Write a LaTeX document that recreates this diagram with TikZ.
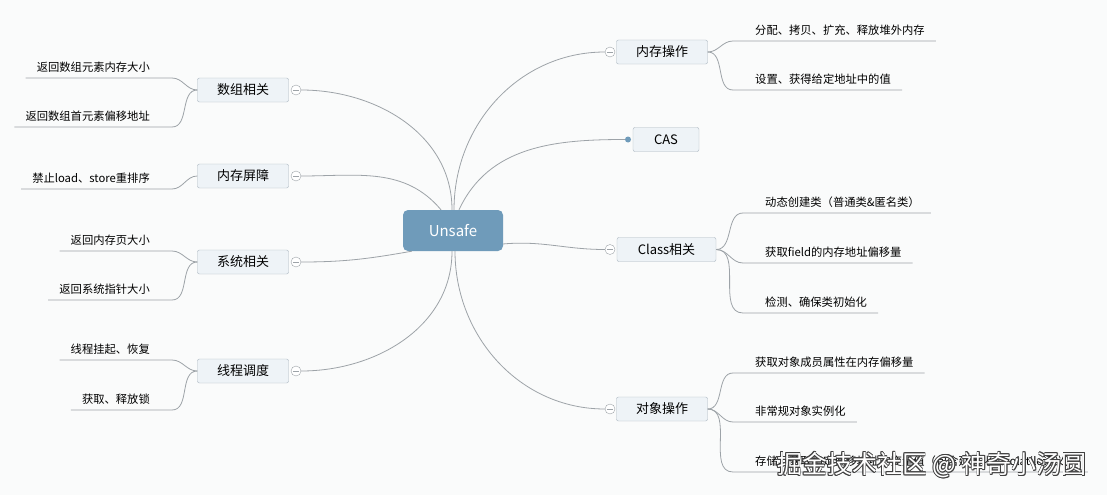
\documentclass[tikz,border=0pt]{standalone}
\usepackage{fontspec}
\setmainfont{Noto Sans CJK SC}
\usetikzlibrary{positioning}
\definecolor{rootblue}{HTML}{6F9BBA}
\definecolor{boxfill}{HTML}{EEF3F7}
\definecolor{boxline}{HTML}{A9B5BF}
\definecolor{linkgray}{HTML}{9DA3A8}
\definecolor{paper}{HTML}{FAFBFB}

\begin{document}
\begin{tikzpicture}[x=1pt,y=1pt,
  root/.style={rectangle, rounded corners=5pt, fill=rootblue, text=white, minimum width=100pt, minimum height=41pt, font=\fontsize{15}{17}\selectfont},
  topic/.style={rectangle, rounded corners=2pt, draw=boxline, fill=boxfill, minimum width=91pt, minimum height=24pt, font=\fontsize{13}{15}\selectfont},
  fold/.style={circle, draw=linkgray, fill=white, inner sep=0pt, minimum size=10pt,
    path picture={\draw[linkgray] ([xshift=-3pt]path picture bounding box.center) -- ([xshift=3pt]path picture bounding box.center);}},
  tip/.style={circle, fill=rootblue, inner sep=0pt, minimum size=6pt},
  leafl/.style={anchor=south east, inner xsep=11pt, inner ysep=5pt, font=\fontsize{11.3}{13}\selectfont},
  leafr/.style={anchor=south west, inner xsep=11pt, inner ysep=5pt, font=\fontsize{11.3}{13}\selectfont},
  link/.style={draw=linkgray, line width=0.8pt}]

% background
  \fill[paper] (0,0) rectangle (1107,-495);
  \useasboundingbox (0,0) rectangle (1107,-495);

% define the root and the topics
  \node[root]  (unsafe) at (453,-230.5) {Unsafe};

  \node[topic] (arr)    at (243,-90)  {数组相关};
  \node[topic] (fence)  at (243,-176) {内存屏障};
  \node[topic] (sys)    at (243,-262) {系统相关};
  \node[topic] (thread) at (243,-371) {线程调度};

  \node[topic] (mem)    at (662,-52)  {内存操作};
  \node[topic, minimum width=66pt] (cas) at (666,-139.5) {CAS};
  \node[topic, minimum width=99pt] (cls) at (666.5,-249.5) {Class相关};
  \node[topic] (obj)    at (662,-409) {对象操作};

% fold marks
  \node[fold] (farr)    at (296,-90)  {};
  \node[fold] (ffence)  at (296,-176) {};
  \node[fold] (fsys)    at (296,-262) {};
  \node[fold] (fthread) at (296,-371) {};
  \node[fold] (fmem)    at (610,-52)  {};
  \node[tip]  (fcas)    at (628,-139.5) {};
  \node[fold] (fcls)    at (610,-249.5) {};
  \node[fold] (fobj)    at (610,-409) {};

% define the leaves
  \node[leafl] (arr1)    at (161,-78)  {返回数组元素内存大小};
  \node[leafl] (arr2)    at (161,-127) {返回数组首元素偏移地址};
  \node[leafl] (fence1)  at (161,-189) {禁止load、store重排序};
  \node[leafl] (sys1)    at (161,-251) {返回内存页大小};
  \node[leafl] (sys2)    at (161,-300) {返回系统指针大小};
  \node[leafl] (thread1) at (161,-360) {线程挂起、恢复};
  \node[leafl] (thread2) at (161,-410) {获取、释放锁};

  \node[leafr] (mem1) at (744,-41)  {分配、拷贝、扩充、释放堆外内存};
  \node[leafr] (mem2) at (744,-90)  {设置、获得给定地址中的值};
  \node[leafr] (cls1) at (754,-213) {动态创建类（普通类\&匿名类）};
  \node[leafr] (cls2) at (754,-263) {获取field的内存地址偏移量};
  \node[leafr] (cls3) at (754,-313) {检测、确保类初始化};
  \node[leafr] (obj1) at (744,-373) {获取对象成员属性在内存偏移量};
  \node[leafr] (obj2) at (744,-422) {非常规对象实例化};
  \node[leafr] (obj3) at (744,-472) {存储、获取指定偏移地址的变量值（包含延迟化和volatile语义）};

% define the links
  \draw[link] (farr.east)    to[out=0,in=90]   ([xshift=-1pt]unsafe.north);
  \draw[link] (ffence.east)  to[out=0,in=130]  ([xshift=-12pt]unsafe.north);
  \draw[link] (fsys.east)    to[out=0,in=190]  ([xshift=9pt]unsafe.south west);
  \draw[link] (fthread.east) to[out=0,in=-90]  ([xshift=-1pt]unsafe.south);
  \draw[link] (fmem.west)    to[out=180,in=90] ([xshift=1pt]unsafe.north);
  \draw[link] (fcas.west)    to[out=180,in=65] ([xshift=6pt]unsafe.north);
  \draw[link] (unsafe.-15)   to[out=5,in=180]  (fcls.west);
  \draw[link] (fobj.west)    to[out=180,in=-90] ([xshift=2pt]unsafe.south);

  \draw[link] (arr.west)    to[out=180,in=0] ([xshift=11pt]arr1.south east) -- (arr1.south west);
  \draw[link] (arr.west)    to[out=180,in=0] ([xshift=11pt]arr2.south east) -- (arr2.south west);
  \draw[link] (fence.west)  to[out=180,in=0] ([xshift=11pt]fence1.south east) -- (fence1.south west);
  \draw[link] (sys.west)    to[out=180,in=0] ([xshift=11pt]sys1.south east) -- (sys1.south west);
  \draw[link] (sys.west)    to[out=180,in=0] ([xshift=11pt]sys2.south east) -- (sys2.south west);
  \draw[link] (thread.west) to[out=180,in=0] ([xshift=11pt]thread1.south east) -- (thread1.south west);
  \draw[link] (thread.west) to[out=180,in=0] ([xshift=11pt]thread2.south east) -- (thread2.south west);

  \draw[link] (mem.east) to[out=0,in=180] ([xshift=-11pt]mem1.south west) -- (mem1.south east);
  \draw[link] (mem.east) to[out=0,in=180] ([xshift=-11pt]mem2.south west) -- (mem2.south east);
  \draw[link] (cls.east) to[out=0,in=180] ([xshift=-11pt]cls1.south west) -- (cls1.south east);
  \draw[link] (cls.east) to[out=0,in=180] ([xshift=-11pt]cls2.south west) -- (cls2.south east);
  \draw[link] (cls.east) to[out=0,in=180] ([xshift=-11pt]cls3.south west) -- (cls3.south east);
  \draw[link] (obj.east) to[out=0,in=180] ([xshift=-11pt]obj1.south west) -- (obj1.south east);
  \draw[link] (obj.east) to[out=0,in=180] ([xshift=-11pt]obj2.south west) -- (obj2.south east);
  \draw[link] (obj.east) to[out=0,in=180] ([xshift=-11pt]obj3.south west) -- (obj3.south east);

% watermark
  \foreach \dx/\dy in {-0.8/0,0.8/0,0/-0.8,0/0.8,-0.6/-0.6,0.6/0.6,-0.6/0.6,0.6/-0.6}
    \node[text=black!75, font=\fontsize{25}{27}\selectfont] at (932+\dx,-465+\dy) {掘金技术社区 @ 神奇小汤圆};
  \node[text=white, font=\fontsize{25}{27}\selectfont] (mark) at (932,-465) {掘金技术社区 @ 神奇小汤圆};

\end{tikzpicture}
\end{document}
